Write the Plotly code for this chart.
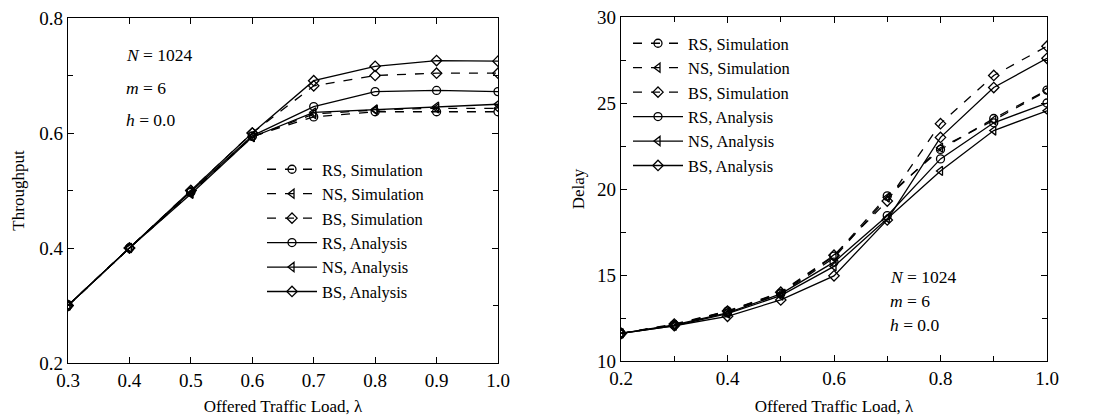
import plotly.graph_objects as go

# ---------------- data ----------------
x_thr = [0.3, 0.4, 0.5, 0.6, 0.7, 0.8, 0.9, 1.0]
thr_rs_sim = [0.300, 0.400, 0.497, 0.594, 0.628, 0.637, 0.637, 0.637]
thr_ns_sim = [0.300, 0.400, 0.495, 0.593, 0.633, 0.640, 0.643, 0.643]
thr_bs_sim = [0.300, 0.400, 0.500, 0.600, 0.682, 0.700, 0.704, 0.704]
thr_rs_an = [0.300, 0.400, 0.498, 0.595, 0.646, 0.672, 0.674, 0.672]
thr_ns_an = [0.300, 0.400, 0.494, 0.593, 0.636, 0.641, 0.646, 0.650]
thr_bs_an = [0.300, 0.400, 0.500, 0.600, 0.691, 0.716, 0.726, 0.725]

x_del = [0.2, 0.3, 0.4, 0.5, 0.6, 0.7, 0.8, 0.9, 1.0]
del_rs_sim = [11.6, 12.1, 12.9, 13.95, 16.1, 19.6, 22.3, 24.1, 25.75]
del_ns_sim = [11.6, 12.1, 12.85, 13.9, 16.0, 19.5, 22.4, 24.0, 25.7]
del_bs_sim = [11.6, 12.15, 12.9, 14.0, 16.15, 19.3, 23.8, 26.6, 28.3]
del_rs_an = [11.6, 12.1, 12.8, 13.9, 15.75, 18.45, 21.75, 23.85, 25.0]
del_ns_an = [11.6, 12.05, 12.75, 13.8, 15.5, 18.3, 21.05, 23.4, 24.55]
del_bs_an = [11.6, 12.05, 12.6, 13.55, 14.95, 18.2, 23.0, 25.9, 27.6]

labels = ["RS, Simulation", "NS, Simulation", "BS, Simulation",
          "RS, Analysis", "NS, Analysis", "BS, Analysis"]
symbols = ["circle-open", "triangle-left-open", "diamond-open"]

FONT = "Liberation Serif"

fig = go.Figure()

def add_series(x, ys, xa, ya, leg):
    for i, y in enumerate(ys):
        sim = i < 3
        fig.add_trace(go.Scatter(
            x=x, y=y, name=labels[i], mode="lines+markers",
            xaxis=xa, yaxis=ya, legend=leg,
            line=dict(color="black", width=1.3, dash="dash" if sim else "solid"),
            marker=dict(symbol=symbols[i % 3], size=8, color="black",
                        line=dict(width=1.3, color="black")),
        ))

add_series(x_thr, [thr_rs_sim, thr_ns_sim, thr_bs_sim, thr_rs_an, thr_ns_an, thr_bs_an],
           "x", "y", "legend")
add_series(x_del, [del_rs_sim, del_ns_sim, del_bs_sim, del_rs_an, del_ns_an, del_bs_an],
           "x2", "y2", "legend2")

W, H = 1102, 416
def px(v): return v / W
def py(v): return 1 - v / H

axis_common = dict(
    showline=True, linecolor="black", linewidth=1.2, mirror="ticks",
    ticks="inside", ticklen=6, tickcolor="black", showgrid=False, zeroline=False,
    tickfont=dict(family=FONT, size=19, color="black"),
    automargin=False,
)
title_font = dict(family=FONT, size=17, color="black")

fig.update_layout(
    width=W, height=H, margin=dict(l=0, r=0, t=0, b=0),
    paper_bgcolor="white", plot_bgcolor="white",
    font=dict(family=FONT, color="black"),
    xaxis=dict(domain=[px(68), px(498)], range=[0.3, 1.0], dtick=0.1, tick0=0.3,
               tickformat=".1f", anchor="y",
               title=dict(text="Offered Traffic Load, λ", font=title_font, standoff=12),
               **axis_common),
    yaxis=dict(domain=[py(363), py(18)], range=[0.2, 0.8], dtick=0.2, tick0=0.2,
               tickformat=".1f", anchor="x",
               minor=dict(dtick=0.1, ticks="inside", ticklen=5, tickcolor="black"),
               title=dict(text="Throughput", font=title_font, standoff=10),
               **axis_common),
    xaxis2=dict(domain=[px(621), px(1047)], range=[0.2, 1.0], dtick=0.2, tick0=0.2,
                tickformat=".1f", anchor="y2",
                minor=dict(dtick=0.1, ticks="inside", ticklen=5, tickcolor="black"),
                title=dict(text="Offered Traffic Load, λ", font=title_font, standoff=12),
                **axis_common),
    yaxis2=dict(domain=[py(361), py(17)], range=[10, 30], dtick=5, tick0=10,
                anchor="x2",
                minor=dict(dtick=2.5, ticks="inside", ticklen=5, tickcolor="black"),
                title=dict(text="Delay", font=title_font, standoff=8),
                **axis_common),
    legend=dict(x=px(262), y=py(152), xanchor="left", yanchor="top",
                bgcolor="rgba(0,0,0,0)", font=dict(family=FONT, size=16.5, color="black"),
                tracegroupgap=0, itemwidth=50),
    legend2=dict(x=px(628), y=py(26), xanchor="left", yanchor="top",
                 bgcolor="rgba(0,0,0,0)", font=dict(family=FONT, size=16.5, color="black"),
                 tracegroupgap=0, itemwidth=50),
    showlegend=True,
)

ann_font = dict(family=FONT, size=17.5, color="black")
left_txt = [("<i>N</i> = 1024", 55), ("<i>m</i> = 6", 88), ("<i>h</i> = 0.0", 120)]
right_txt = [("<i>N</i> = 1024", 277), ("<i>m</i> = 6", 301), ("<i>h</i> = 0.0", 325)]
for t, yy in left_txt:
    fig.add_annotation(text=t, x=px(124), y=py(yy), xref="paper", yref="paper",
                       xanchor="left", yanchor="middle", showarrow=False, font=ann_font)
for t, yy in right_txt:
    fig.add_annotation(text=t, x=px(888), y=py(yy), xref="paper", yref="paper",
                       xanchor="left", yanchor="middle", showarrow=False, font=ann_font)

fig.write_html("out.html")
